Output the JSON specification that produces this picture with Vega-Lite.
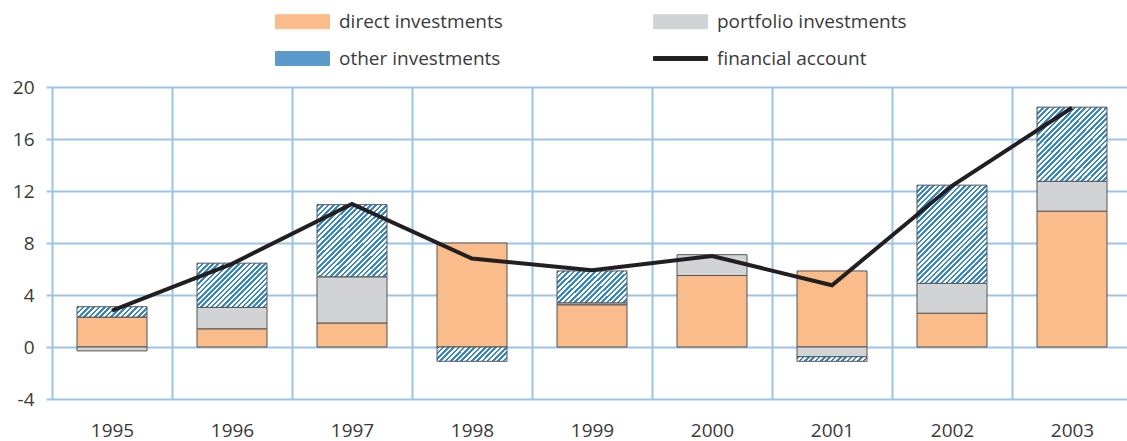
{
"$schema": "https://vega.github.io/schema/vega-lite/v6.json",
"width": 1075, "height": 312,
"autosize": "none",
"padding": {"left": 52, "top": 87, "right": 0, "bottom": 42},
"background": "white",
"config": {"view": {"stroke": null}},
"data": {"values": [
{"year":"1995","series":"direct investments","value":2.3},
{"year":"1995","series":"portfolio investments","value":-0.3},
{"year":"1995","series":"other investments","value":0.8},
{"year":"1995","series":"financial account","value":2.8},
{"year":"1996","series":"direct investments","value":1.4},
{"year":"1996","series":"portfolio investments","value":1.65},
{"year":"1996","series":"other investments","value":3.4},
{"year":"1996","series":"financial account","value":6.4},
{"year":"1997","series":"direct investments","value":1.85},
{"year":"1997","series":"portfolio investments","value":3.55},
{"year":"1997","series":"other investments","value":5.55},
{"year":"1997","series":"financial account","value":11.0},
{"year":"1998","series":"direct investments","value":8.0},
{"year":"1998","series":"other investments","value":-1.1},
{"year":"1998","series":"financial account","value":6.8},
{"year":"1999","series":"direct investments","value":3.25},
{"year":"1999","series":"portfolio investments","value":0.15},
{"year":"1999","series":"other investments","value":2.45},
{"year":"1999","series":"financial account","value":5.9},
{"year":"2000","series":"direct investments","value":5.5},
{"year":"2000","series":"portfolio investments","value":1.6},
{"year":"2000","series":"financial account","value":7.0},
{"year":"2001","series":"direct investments","value":5.85},
{"year":"2001","series":"portfolio investments","value":-0.75},
{"year":"2001","series":"other investments","value":-0.35},
{"year":"2001","series":"financial account","value":4.75},
{"year":"2002","series":"direct investments","value":2.6},
{"year":"2002","series":"portfolio investments","value":2.3},
{"year":"2002","series":"other investments","value":7.55},
{"year":"2002","series":"financial account","value":12.4},
{"year":"2003","series":"direct investments","value":10.45},
{"year":"2003","series":"portfolio investments","value":2.3},
{"year":"2003","series":"other investments","value":5.7},
{"year":"2003","series":"financial account","value":18.4}
]},
"encoding": {
  "x": {"field": "year", "type": "ordinal",
    "scale": {"range": [0, 1080], "paddingInner": 0, "paddingOuter": 0},
    "axis": {"title": null, "tickBand": "extent", "grid": true, "gridColor": "#9dc3e6", "gridWidth": 2, "ticks": false, "domain": false, "labelAngle": 0, "labelFontSize": 19, "labelFont": "Open Sans", "labelColor": "#3a3a3a", "labelPadding": 22}},
  "color": {"field": "series", "type": "nominal",
    "scale": {"domain": ["direct investments","portfolio investments","other investments","financial account"], "range": ["#f9bc8a","#d1d3d4","#5b9bcc","#231f20"]},
    "condition": [
      {"test": "datum.series==='other investments'&&datum.year==='1995'", "value": {"gradient":"linear","x1":0,"y1":0,"x2":1.124,"y2":0.167,"stops":[
{"offset":0,"color":"#3a86c0"},{"offset":0.033,"color":"#3a86c0"},{"offset":0.033,"color":"#fff"},{"offset":0.067,"color":"#fff"},
{"offset":0.067,"color":"#3a86c0"},{"offset":0.1,"color":"#3a86c0"},{"offset":0.1,"color":"#fff"},{"offset":0.133,"color":"#fff"},
{"offset":0.133,"color":"#3a86c0"},{"offset":0.167,"color":"#3a86c0"},{"offset":0.167,"color":"#fff"},{"offset":0.2,"color":"#fff"},
{"offset":0.2,"color":"#3a86c0"},{"offset":0.233,"color":"#3a86c0"},{"offset":0.233,"color":"#fff"},{"offset":0.267,"color":"#fff"},
{"offset":0.267,"color":"#3a86c0"},{"offset":0.3,"color":"#3a86c0"},{"offset":0.3,"color":"#fff"},{"offset":0.333,"color":"#fff"},
{"offset":0.333,"color":"#3a86c0"},{"offset":0.367,"color":"#3a86c0"},{"offset":0.367,"color":"#fff"},{"offset":0.4,"color":"#fff"},
{"offset":0.4,"color":"#3a86c0"},{"offset":0.433,"color":"#3a86c0"},{"offset":0.433,"color":"#fff"},{"offset":0.467,"color":"#fff"},
{"offset":0.467,"color":"#3a86c0"},{"offset":0.5,"color":"#3a86c0"},{"offset":0.5,"color":"#fff"},{"offset":0.533,"color":"#fff"},
{"offset":0.533,"color":"#3a86c0"},{"offset":0.567,"color":"#3a86c0"},{"offset":0.567,"color":"#fff"},{"offset":0.6,"color":"#fff"},
{"offset":0.6,"color":"#3a86c0"},{"offset":0.633,"color":"#3a86c0"},{"offset":0.633,"color":"#fff"},{"offset":0.667,"color":"#fff"},
{"offset":0.667,"color":"#3a86c0"},{"offset":0.7,"color":"#3a86c0"},{"offset":0.7,"color":"#fff"},{"offset":0.733,"color":"#fff"},
{"offset":0.733,"color":"#3a86c0"},{"offset":0.767,"color":"#3a86c0"},{"offset":0.767,"color":"#fff"},{"offset":0.8,"color":"#fff"},
{"offset":0.8,"color":"#3a86c0"},{"offset":0.833,"color":"#3a86c0"},{"offset":0.833,"color":"#fff"},{"offset":0.867,"color":"#fff"},
{"offset":0.867,"color":"#3a86c0"},{"offset":0.9,"color":"#3a86c0"},{"offset":0.9,"color":"#fff"},{"offset":0.933,"color":"#fff"},
{"offset":0.933,"color":"#3a86c0"},{"offset":0.967,"color":"#3a86c0"},{"offset":0.967,"color":"#fff"},{"offset":1,"color":"#fff"}]}},
      {"test": "datum.series==='other investments'&&datum.year==='1996'", "value": {"gradient":"linear","x1":0,"y1":0,"x2":1.166,"y2":0.737,"stops":[
{"offset":0,"color":"#3a86c0"},{"offset":0.023,"color":"#3a86c0"},{"offset":0.023,"color":"#fff"},{"offset":0.045,"color":"#fff"},
{"offset":0.045,"color":"#3a86c0"},{"offset":0.068,"color":"#3a86c0"},{"offset":0.068,"color":"#fff"},{"offset":0.091,"color":"#fff"},
{"offset":0.091,"color":"#3a86c0"},{"offset":0.114,"color":"#3a86c0"},{"offset":0.114,"color":"#fff"},{"offset":0.136,"color":"#fff"},
{"offset":0.136,"color":"#3a86c0"},{"offset":0.159,"color":"#3a86c0"},{"offset":0.159,"color":"#fff"},{"offset":0.182,"color":"#fff"},
{"offset":0.182,"color":"#3a86c0"},{"offset":0.205,"color":"#3a86c0"},{"offset":0.205,"color":"#fff"},{"offset":0.227,"color":"#fff"},
{"offset":0.227,"color":"#3a86c0"},{"offset":0.25,"color":"#3a86c0"},{"offset":0.25,"color":"#fff"},{"offset":0.273,"color":"#fff"},
{"offset":0.273,"color":"#3a86c0"},{"offset":0.295,"color":"#3a86c0"},{"offset":0.295,"color":"#fff"},{"offset":0.318,"color":"#fff"},
{"offset":0.318,"color":"#3a86c0"},{"offset":0.341,"color":"#3a86c0"},{"offset":0.341,"color":"#fff"},{"offset":0.364,"color":"#fff"},
{"offset":0.364,"color":"#3a86c0"},{"offset":0.386,"color":"#3a86c0"},{"offset":0.386,"color":"#fff"},{"offset":0.409,"color":"#fff"},
{"offset":0.409,"color":"#3a86c0"},{"offset":0.432,"color":"#3a86c0"},{"offset":0.432,"color":"#fff"},{"offset":0.455,"color":"#fff"},
{"offset":0.455,"color":"#3a86c0"},{"offset":0.477,"color":"#3a86c0"},{"offset":0.477,"color":"#fff"},{"offset":0.5,"color":"#fff"},
{"offset":0.5,"color":"#3a86c0"},{"offset":0.523,"color":"#3a86c0"},{"offset":0.523,"color":"#fff"},{"offset":0.545,"color":"#fff"},
{"offset":0.545,"color":"#3a86c0"},{"offset":0.568,"color":"#3a86c0"},{"offset":0.568,"color":"#fff"},{"offset":0.591,"color":"#fff"},
{"offset":0.591,"color":"#3a86c0"},{"offset":0.614,"color":"#3a86c0"},{"offset":0.614,"color":"#fff"},{"offset":0.636,"color":"#fff"},
{"offset":0.636,"color":"#3a86c0"},{"offset":0.659,"color":"#3a86c0"},{"offset":0.659,"color":"#fff"},{"offset":0.682,"color":"#fff"},
{"offset":0.682,"color":"#3a86c0"},{"offset":0.705,"color":"#3a86c0"},{"offset":0.705,"color":"#fff"},{"offset":0.727,"color":"#fff"},
{"offset":0.727,"color":"#3a86c0"},{"offset":0.75,"color":"#3a86c0"},{"offset":0.75,"color":"#fff"},{"offset":0.773,"color":"#fff"},
{"offset":0.773,"color":"#3a86c0"},{"offset":0.795,"color":"#3a86c0"},{"offset":0.795,"color":"#fff"},{"offset":0.818,"color":"#fff"},
{"offset":0.818,"color":"#3a86c0"},{"offset":0.841,"color":"#3a86c0"},{"offset":0.841,"color":"#fff"},{"offset":0.864,"color":"#fff"},
{"offset":0.864,"color":"#3a86c0"},{"offset":0.886,"color":"#3a86c0"},{"offset":0.886,"color":"#fff"},{"offset":0.909,"color":"#fff"},
{"offset":0.909,"color":"#3a86c0"},{"offset":0.932,"color":"#3a86c0"},{"offset":0.932,"color":"#fff"},{"offset":0.955,"color":"#fff"},
{"offset":0.955,"color":"#3a86c0"},{"offset":0.977,"color":"#3a86c0"},{"offset":0.977,"color":"#fff"},{"offset":1,"color":"#fff"}]}},
      {"test": "datum.series==='other investments'&&(datum.year==='1997'||datum.year==='2003')", "value": {"gradient":"linear","x1":0,"y1":0,"x2":0.978,"y2":1.021,"stops":[
{"offset":0,"color":"#3a86c0"},{"offset":0.019,"color":"#3a86c0"},{"offset":0.019,"color":"#fff"},{"offset":0.037,"color":"#fff"},
{"offset":0.037,"color":"#3a86c0"},{"offset":0.056,"color":"#3a86c0"},{"offset":0.056,"color":"#fff"},{"offset":0.074,"color":"#fff"},
{"offset":0.074,"color":"#3a86c0"},{"offset":0.093,"color":"#3a86c0"},{"offset":0.093,"color":"#fff"},{"offset":0.111,"color":"#fff"},
{"offset":0.111,"color":"#3a86c0"},{"offset":0.13,"color":"#3a86c0"},{"offset":0.13,"color":"#fff"},{"offset":0.148,"color":"#fff"},
{"offset":0.148,"color":"#3a86c0"},{"offset":0.167,"color":"#3a86c0"},{"offset":0.167,"color":"#fff"},{"offset":0.185,"color":"#fff"},
{"offset":0.185,"color":"#3a86c0"},{"offset":0.204,"color":"#3a86c0"},{"offset":0.204,"color":"#fff"},{"offset":0.222,"color":"#fff"},
{"offset":0.222,"color":"#3a86c0"},{"offset":0.241,"color":"#3a86c0"},{"offset":0.241,"color":"#fff"},{"offset":0.259,"color":"#fff"},
{"offset":0.259,"color":"#3a86c0"},{"offset":0.278,"color":"#3a86c0"},{"offset":0.278,"color":"#fff"},{"offset":0.296,"color":"#fff"},
{"offset":0.296,"color":"#3a86c0"},{"offset":0.315,"color":"#3a86c0"},{"offset":0.315,"color":"#fff"},{"offset":0.333,"color":"#fff"},
{"offset":0.333,"color":"#3a86c0"},{"offset":0.352,"color":"#3a86c0"},{"offset":0.352,"color":"#fff"},{"offset":0.37,"color":"#fff"},
{"offset":0.37,"color":"#3a86c0"},{"offset":0.389,"color":"#3a86c0"},{"offset":0.389,"color":"#fff"},{"offset":0.407,"color":"#fff"},
{"offset":0.407,"color":"#3a86c0"},{"offset":0.426,"color":"#3a86c0"},{"offset":0.426,"color":"#fff"},{"offset":0.444,"color":"#fff"},
{"offset":0.444,"color":"#3a86c0"},{"offset":0.463,"color":"#3a86c0"},{"offset":0.463,"color":"#fff"},{"offset":0.481,"color":"#fff"},
{"offset":0.481,"color":"#3a86c0"},{"offset":0.5,"color":"#3a86c0"},{"offset":0.5,"color":"#fff"},{"offset":0.519,"color":"#fff"},
{"offset":0.519,"color":"#3a86c0"},{"offset":0.537,"color":"#3a86c0"},{"offset":0.537,"color":"#fff"},{"offset":0.556,"color":"#fff"},
{"offset":0.556,"color":"#3a86c0"},{"offset":0.574,"color":"#3a86c0"},{"offset":0.574,"color":"#fff"},{"offset":0.593,"color":"#fff"},
{"offset":0.593,"color":"#3a86c0"},{"offset":0.611,"color":"#3a86c0"},{"offset":0.611,"color":"#fff"},{"offset":0.63,"color":"#fff"},
{"offset":0.63,"color":"#3a86c0"},{"offset":0.648,"color":"#3a86c0"},{"offset":0.648,"color":"#fff"},{"offset":0.667,"color":"#fff"},
{"offset":0.667,"color":"#3a86c0"},{"offset":0.685,"color":"#3a86c0"},{"offset":0.685,"color":"#fff"},{"offset":0.704,"color":"#fff"},
{"offset":0.704,"color":"#3a86c0"},{"offset":0.722,"color":"#3a86c0"},{"offset":0.722,"color":"#fff"},{"offset":0.741,"color":"#fff"},
{"offset":0.741,"color":"#3a86c0"},{"offset":0.759,"color":"#3a86c0"},{"offset":0.759,"color":"#fff"},{"offset":0.778,"color":"#fff"},
{"offset":0.778,"color":"#3a86c0"},{"offset":0.796,"color":"#3a86c0"},{"offset":0.796,"color":"#fff"},{"offset":0.815,"color":"#fff"},
{"offset":0.815,"color":"#3a86c0"},{"offset":0.833,"color":"#3a86c0"},{"offset":0.833,"color":"#fff"},{"offset":0.852,"color":"#fff"},
{"offset":0.852,"color":"#3a86c0"},{"offset":0.87,"color":"#3a86c0"},{"offset":0.87,"color":"#fff"},{"offset":0.889,"color":"#fff"},
{"offset":0.889,"color":"#3a86c0"},{"offset":0.907,"color":"#3a86c0"},{"offset":0.907,"color":"#fff"},{"offset":0.926,"color":"#fff"},
{"offset":0.926,"color":"#3a86c0"},{"offset":0.944,"color":"#3a86c0"},{"offset":0.944,"color":"#fff"},{"offset":0.963,"color":"#fff"},
{"offset":0.963,"color":"#3a86c0"},{"offset":0.981,"color":"#3a86c0"},{"offset":0.981,"color":"#fff"},{"offset":1,"color":"#fff"}]}},
      {"test": "datum.series==='other investments'&&datum.year==='1998'", "value": {"gradient":"linear","x1":0,"y1":0,"x2":1.156,"y2":0.236,"stops":[
{"offset":0,"color":"#3a86c0"},{"offset":0.031,"color":"#3a86c0"},{"offset":0.031,"color":"#fff"},{"offset":0.063,"color":"#fff"},
{"offset":0.063,"color":"#3a86c0"},{"offset":0.094,"color":"#3a86c0"},{"offset":0.094,"color":"#fff"},{"offset":0.125,"color":"#fff"},
{"offset":0.125,"color":"#3a86c0"},{"offset":0.156,"color":"#3a86c0"},{"offset":0.156,"color":"#fff"},{"offset":0.188,"color":"#fff"},
{"offset":0.188,"color":"#3a86c0"},{"offset":0.219,"color":"#3a86c0"},{"offset":0.219,"color":"#fff"},{"offset":0.25,"color":"#fff"},
{"offset":0.25,"color":"#3a86c0"},{"offset":0.281,"color":"#3a86c0"},{"offset":0.281,"color":"#fff"},{"offset":0.313,"color":"#fff"},
{"offset":0.313,"color":"#3a86c0"},{"offset":0.344,"color":"#3a86c0"},{"offset":0.344,"color":"#fff"},{"offset":0.375,"color":"#fff"},
{"offset":0.375,"color":"#3a86c0"},{"offset":0.406,"color":"#3a86c0"},{"offset":0.406,"color":"#fff"},{"offset":0.438,"color":"#fff"},
{"offset":0.438,"color":"#3a86c0"},{"offset":0.469,"color":"#3a86c0"},{"offset":0.469,"color":"#fff"},{"offset":0.5,"color":"#fff"},
{"offset":0.5,"color":"#3a86c0"},{"offset":0.531,"color":"#3a86c0"},{"offset":0.531,"color":"#fff"},{"offset":0.563,"color":"#fff"},
{"offset":0.563,"color":"#3a86c0"},{"offset":0.594,"color":"#3a86c0"},{"offset":0.594,"color":"#fff"},{"offset":0.625,"color":"#fff"},
{"offset":0.625,"color":"#3a86c0"},{"offset":0.656,"color":"#3a86c0"},{"offset":0.656,"color":"#fff"},{"offset":0.688,"color":"#fff"},
{"offset":0.688,"color":"#3a86c0"},{"offset":0.719,"color":"#3a86c0"},{"offset":0.719,"color":"#fff"},{"offset":0.75,"color":"#fff"},
{"offset":0.75,"color":"#3a86c0"},{"offset":0.781,"color":"#3a86c0"},{"offset":0.781,"color":"#fff"},{"offset":0.813,"color":"#fff"},
{"offset":0.813,"color":"#3a86c0"},{"offset":0.844,"color":"#3a86c0"},{"offset":0.844,"color":"#fff"},{"offset":0.875,"color":"#fff"},
{"offset":0.875,"color":"#3a86c0"},{"offset":0.906,"color":"#3a86c0"},{"offset":0.906,"color":"#fff"},{"offset":0.938,"color":"#fff"},
{"offset":0.938,"color":"#3a86c0"},{"offset":0.969,"color":"#3a86c0"},{"offset":0.969,"color":"#fff"},{"offset":1,"color":"#fff"}]}},
      {"test": "datum.series==='other investments'&&datum.year==='1999'", "value": {"gradient":"linear","x1":0,"y1":0,"x2":1.205,"y2":0.559,"stops":[
{"offset":0,"color":"#3a86c0"},{"offset":0.026,"color":"#3a86c0"},{"offset":0.026,"color":"#fff"},{"offset":0.053,"color":"#fff"},
{"offset":0.053,"color":"#3a86c0"},{"offset":0.079,"color":"#3a86c0"},{"offset":0.079,"color":"#fff"},{"offset":0.105,"color":"#fff"},
{"offset":0.105,"color":"#3a86c0"},{"offset":0.132,"color":"#3a86c0"},{"offset":0.132,"color":"#fff"},{"offset":0.158,"color":"#fff"},
{"offset":0.158,"color":"#3a86c0"},{"offset":0.184,"color":"#3a86c0"},{"offset":0.184,"color":"#fff"},{"offset":0.211,"color":"#fff"},
{"offset":0.211,"color":"#3a86c0"},{"offset":0.237,"color":"#3a86c0"},{"offset":0.237,"color":"#fff"},{"offset":0.263,"color":"#fff"},
{"offset":0.263,"color":"#3a86c0"},{"offset":0.289,"color":"#3a86c0"},{"offset":0.289,"color":"#fff"},{"offset":0.316,"color":"#fff"},
{"offset":0.316,"color":"#3a86c0"},{"offset":0.342,"color":"#3a86c0"},{"offset":0.342,"color":"#fff"},{"offset":0.368,"color":"#fff"},
{"offset":0.368,"color":"#3a86c0"},{"offset":0.395,"color":"#3a86c0"},{"offset":0.395,"color":"#fff"},{"offset":0.421,"color":"#fff"},
{"offset":0.421,"color":"#3a86c0"},{"offset":0.447,"color":"#3a86c0"},{"offset":0.447,"color":"#fff"},{"offset":0.474,"color":"#fff"},
{"offset":0.474,"color":"#3a86c0"},{"offset":0.5,"color":"#3a86c0"},{"offset":0.5,"color":"#fff"},{"offset":0.526,"color":"#fff"},
{"offset":0.526,"color":"#3a86c0"},{"offset":0.553,"color":"#3a86c0"},{"offset":0.553,"color":"#fff"},{"offset":0.579,"color":"#fff"},
{"offset":0.579,"color":"#3a86c0"},{"offset":0.605,"color":"#3a86c0"},{"offset":0.605,"color":"#fff"},{"offset":0.632,"color":"#fff"},
{"offset":0.632,"color":"#3a86c0"},{"offset":0.658,"color":"#3a86c0"},{"offset":0.658,"color":"#fff"},{"offset":0.684,"color":"#fff"},
{"offset":0.684,"color":"#3a86c0"},{"offset":0.711,"color":"#3a86c0"},{"offset":0.711,"color":"#fff"},{"offset":0.737,"color":"#fff"},
{"offset":0.737,"color":"#3a86c0"},{"offset":0.763,"color":"#3a86c0"},{"offset":0.763,"color":"#fff"},{"offset":0.789,"color":"#fff"},
{"offset":0.789,"color":"#3a86c0"},{"offset":0.816,"color":"#3a86c0"},{"offset":0.816,"color":"#fff"},{"offset":0.842,"color":"#fff"},
{"offset":0.842,"color":"#3a86c0"},{"offset":0.868,"color":"#3a86c0"},{"offset":0.868,"color":"#fff"},{"offset":0.895,"color":"#fff"},
{"offset":0.895,"color":"#3a86c0"},{"offset":0.921,"color":"#3a86c0"},{"offset":0.921,"color":"#fff"},{"offset":0.947,"color":"#fff"},
{"offset":0.947,"color":"#3a86c0"},{"offset":0.974,"color":"#3a86c0"},{"offset":0.974,"color":"#fff"},{"offset":1,"color":"#fff"}]}},
      {"test": "datum.series==='other investments'&&datum.year==='2001'", "value": {"gradient":"linear","x1":0,"y1":0,"x2":1.061,"y2":0.069,"stops":[
{"offset":0,"color":"#3a86c0"},{"offset":0.036,"color":"#3a86c0"},{"offset":0.036,"color":"#fff"},{"offset":0.071,"color":"#fff"},
{"offset":0.071,"color":"#3a86c0"},{"offset":0.107,"color":"#3a86c0"},{"offset":0.107,"color":"#fff"},{"offset":0.143,"color":"#fff"},
{"offset":0.143,"color":"#3a86c0"},{"offset":0.179,"color":"#3a86c0"},{"offset":0.179,"color":"#fff"},{"offset":0.214,"color":"#fff"},
{"offset":0.214,"color":"#3a86c0"},{"offset":0.25,"color":"#3a86c0"},{"offset":0.25,"color":"#fff"},{"offset":0.286,"color":"#fff"},
{"offset":0.286,"color":"#3a86c0"},{"offset":0.321,"color":"#3a86c0"},{"offset":0.321,"color":"#fff"},{"offset":0.357,"color":"#fff"},
{"offset":0.357,"color":"#3a86c0"},{"offset":0.393,"color":"#3a86c0"},{"offset":0.393,"color":"#fff"},{"offset":0.429,"color":"#fff"},
{"offset":0.429,"color":"#3a86c0"},{"offset":0.464,"color":"#3a86c0"},{"offset":0.464,"color":"#fff"},{"offset":0.5,"color":"#fff"},
{"offset":0.5,"color":"#3a86c0"},{"offset":0.536,"color":"#3a86c0"},{"offset":0.536,"color":"#fff"},{"offset":0.571,"color":"#fff"},
{"offset":0.571,"color":"#3a86c0"},{"offset":0.607,"color":"#3a86c0"},{"offset":0.607,"color":"#fff"},{"offset":0.643,"color":"#fff"},
{"offset":0.643,"color":"#3a86c0"},{"offset":0.679,"color":"#3a86c0"},{"offset":0.679,"color":"#fff"},{"offset":0.714,"color":"#fff"},
{"offset":0.714,"color":"#3a86c0"},{"offset":0.75,"color":"#3a86c0"},{"offset":0.75,"color":"#fff"},{"offset":0.786,"color":"#fff"},
{"offset":0.786,"color":"#3a86c0"},{"offset":0.821,"color":"#3a86c0"},{"offset":0.821,"color":"#fff"},{"offset":0.857,"color":"#fff"},
{"offset":0.857,"color":"#3a86c0"},{"offset":0.893,"color":"#3a86c0"},{"offset":0.893,"color":"#fff"},{"offset":0.929,"color":"#fff"},
{"offset":0.929,"color":"#3a86c0"},{"offset":0.964,"color":"#3a86c0"},{"offset":0.964,"color":"#fff"},{"offset":1,"color":"#fff"}]}},
      {"test": "datum.series==='other investments'&&datum.year==='2002'", "value": {"gradient":"linear","x1":0,"y1":0,"x2":0.81,"y2":1.136,"stops":[
{"offset":0,"color":"#3a86c0"},{"offset":0.016,"color":"#3a86c0"},{"offset":0.016,"color":"#fff"},{"offset":0.031,"color":"#fff"},
{"offset":0.031,"color":"#3a86c0"},{"offset":0.047,"color":"#3a86c0"},{"offset":0.047,"color":"#fff"},{"offset":0.063,"color":"#fff"},
{"offset":0.063,"color":"#3a86c0"},{"offset":0.078,"color":"#3a86c0"},{"offset":0.078,"color":"#fff"},{"offset":0.094,"color":"#fff"},
{"offset":0.094,"color":"#3a86c0"},{"offset":0.109,"color":"#3a86c0"},{"offset":0.109,"color":"#fff"},{"offset":0.125,"color":"#fff"},
{"offset":0.125,"color":"#3a86c0"},{"offset":0.141,"color":"#3a86c0"},{"offset":0.141,"color":"#fff"},{"offset":0.156,"color":"#fff"},
{"offset":0.156,"color":"#3a86c0"},{"offset":0.172,"color":"#3a86c0"},{"offset":0.172,"color":"#fff"},{"offset":0.188,"color":"#fff"},
{"offset":0.188,"color":"#3a86c0"},{"offset":0.203,"color":"#3a86c0"},{"offset":0.203,"color":"#fff"},{"offset":0.219,"color":"#fff"},
{"offset":0.219,"color":"#3a86c0"},{"offset":0.234,"color":"#3a86c0"},{"offset":0.234,"color":"#fff"},{"offset":0.25,"color":"#fff"},
{"offset":0.25,"color":"#3a86c0"},{"offset":0.266,"color":"#3a86c0"},{"offset":0.266,"color":"#fff"},{"offset":0.281,"color":"#fff"},
{"offset":0.281,"color":"#3a86c0"},{"offset":0.297,"color":"#3a86c0"},{"offset":0.297,"color":"#fff"},{"offset":0.313,"color":"#fff"},
{"offset":0.313,"color":"#3a86c0"},{"offset":0.328,"color":"#3a86c0"},{"offset":0.328,"color":"#fff"},{"offset":0.344,"color":"#fff"},
{"offset":0.344,"color":"#3a86c0"},{"offset":0.359,"color":"#3a86c0"},{"offset":0.359,"color":"#fff"},{"offset":0.375,"color":"#fff"},
{"offset":0.375,"color":"#3a86c0"},{"offset":0.391,"color":"#3a86c0"},{"offset":0.391,"color":"#fff"},{"offset":0.406,"color":"#fff"},
{"offset":0.406,"color":"#3a86c0"},{"offset":0.422,"color":"#3a86c0"},{"offset":0.422,"color":"#fff"},{"offset":0.438,"color":"#fff"},
{"offset":0.438,"color":"#3a86c0"},{"offset":0.453,"color":"#3a86c0"},{"offset":0.453,"color":"#fff"},{"offset":0.469,"color":"#fff"},
{"offset":0.469,"color":"#3a86c0"},{"offset":0.484,"color":"#3a86c0"},{"offset":0.484,"color":"#fff"},{"offset":0.5,"color":"#fff"},
{"offset":0.5,"color":"#3a86c0"},{"offset":0.516,"color":"#3a86c0"},{"offset":0.516,"color":"#fff"},{"offset":0.531,"color":"#fff"},
{"offset":0.531,"color":"#3a86c0"},{"offset":0.547,"color":"#3a86c0"},{"offset":0.547,"color":"#fff"},{"offset":0.563,"color":"#fff"},
{"offset":0.563,"color":"#3a86c0"},{"offset":0.578,"color":"#3a86c0"},{"offset":0.578,"color":"#fff"},{"offset":0.594,"color":"#fff"},
{"offset":0.594,"color":"#3a86c0"},{"offset":0.609,"color":"#3a86c0"},{"offset":0.609,"color":"#fff"},{"offset":0.625,"color":"#fff"},
{"offset":0.625,"color":"#3a86c0"},{"offset":0.641,"color":"#3a86c0"},{"offset":0.641,"color":"#fff"},{"offset":0.656,"color":"#fff"},
{"offset":0.656,"color":"#3a86c0"},{"offset":0.672,"color":"#3a86c0"},{"offset":0.672,"color":"#fff"},{"offset":0.688,"color":"#fff"},
{"offset":0.688,"color":"#3a86c0"},{"offset":0.703,"color":"#3a86c0"},{"offset":0.703,"color":"#fff"},{"offset":0.719,"color":"#fff"},
{"offset":0.719,"color":"#3a86c0"},{"offset":0.734,"color":"#3a86c0"},{"offset":0.734,"color":"#fff"},{"offset":0.75,"color":"#fff"},
{"offset":0.75,"color":"#3a86c0"},{"offset":0.766,"color":"#3a86c0"},{"offset":0.766,"color":"#fff"},{"offset":0.781,"color":"#fff"},
{"offset":0.781,"color":"#3a86c0"},{"offset":0.797,"color":"#3a86c0"},{"offset":0.797,"color":"#fff"},{"offset":0.813,"color":"#fff"},
{"offset":0.813,"color":"#3a86c0"},{"offset":0.828,"color":"#3a86c0"},{"offset":0.828,"color":"#fff"},{"offset":0.844,"color":"#fff"},
{"offset":0.844,"color":"#3a86c0"},{"offset":0.859,"color":"#3a86c0"},{"offset":0.859,"color":"#fff"},{"offset":0.875,"color":"#fff"},
{"offset":0.875,"color":"#3a86c0"},{"offset":0.891,"color":"#3a86c0"},{"offset":0.891,"color":"#fff"},{"offset":0.906,"color":"#fff"},
{"offset":0.906,"color":"#3a86c0"},{"offset":0.922,"color":"#3a86c0"},{"offset":0.922,"color":"#fff"},{"offset":0.938,"color":"#fff"},
{"offset":0.938,"color":"#3a86c0"},{"offset":0.953,"color":"#3a86c0"},{"offset":0.953,"color":"#fff"},{"offset":0.969,"color":"#fff"},
{"offset":0.969,"color":"#3a86c0"},{"offset":0.984,"color":"#3a86c0"},{"offset":0.984,"color":"#fff"},{"offset":1,"color":"#fff"}]}}
    ],
    "legend": {"title": null, "orient": "none", "direction": "horizontal", "legendX": 241, "legendY": -75, "columns": 2, "columnPadding": 148, "rowPadding": 17,
      "symbolSize": 196, "labelOffset": 27, "labelFontSize": 19, "labelFont": "Open Sans", "labelColor": "#3a3a3a", "labelLimit": 400,
      "encode": {"symbols": {"update": {
        "shape": [{"test": "datum.value==='financial account'", "value": "M-3.86,-0.28H3.86V0.28H-3.86Z"}, {"value": "M-3.86,-1H3.86V1H-3.86Z"}],
        "strokeWidth": {"value": 1},
        "opacity": {"value": 1},
        "fillOpacity": {"value": 1}
      }}}
    }
  }
},
"layer": [
  {
    "transform": [
      {"filter": "datum.series !== 'financial account'"},
      {"calculate": "indexof(['direct investments','portfolio investments','other investments'], datum.series)", "as": "stackOrder"}
    ],
    "mark": {"type": "bar", "size": 70, "stroke": "#555555", "strokeWidth": 1},
    "encoding": {
      "y": {"field": "value", "type": "quantitative", "stack": "zero",
        "scale": {"domain": [-4, 20], "nice": false, "zero": false},
        "axis": {"title": null, "values": [-4,0,4,8,12,16,20], "labelExpr": "'' + datum.value", "grid": true, "gridColor": "#9dc3e6", "gridWidth": 2, "domain": false, "ticks": true, "tickColor": "#9dc3e6", "tickWidth": 2, "tickSize": 6, "labelFontSize": 19, "labelFont": "Open Sans", "labelColor": "#3a3a3a", "labelPadding": 12}},
      "order": {"field": "stackOrder", "type": "quantitative"}
    }
  },
  {
    "transform": [{"filter": "datum.series === 'financial account'"}],
    "mark": {"type": "line", "strokeWidth": 4},
    "encoding": {
      "y": {"field": "value", "type": "quantitative", "stack": null}
    }
  }
]
}
